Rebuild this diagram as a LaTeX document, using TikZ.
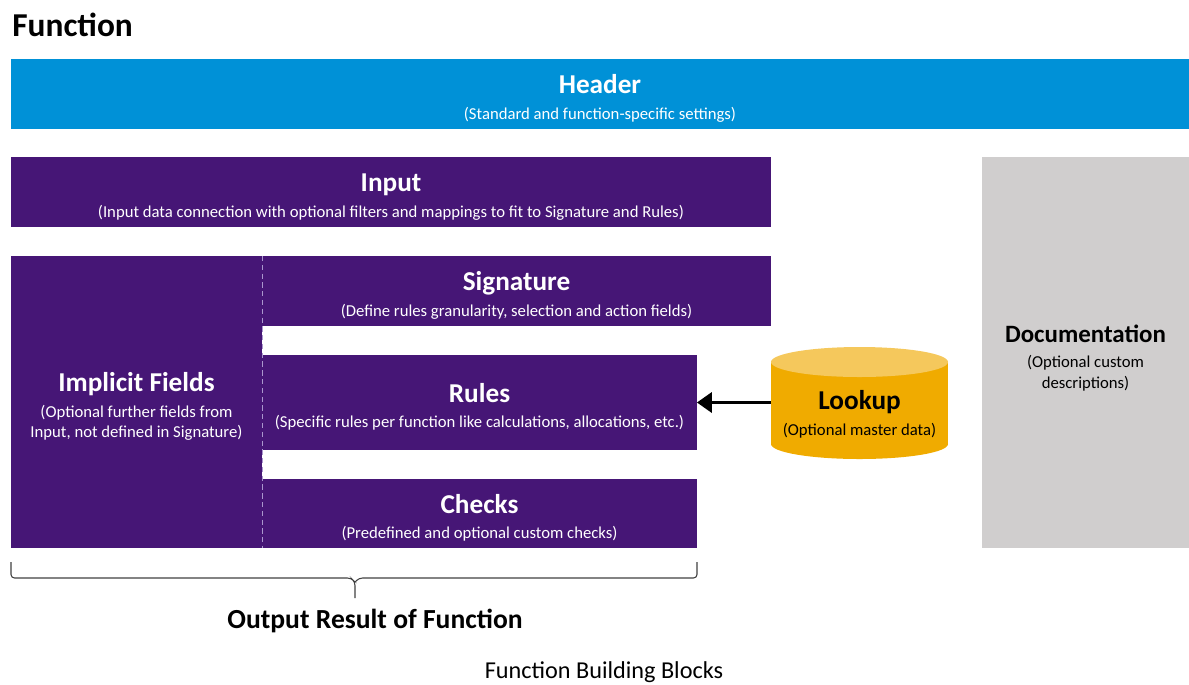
\documentclass[tikz,border=0pt]{standalone}
\usepackage{fontspec}
\setmainfont{Carlito}
\usetikzlibrary{arrows.meta}

\definecolor{hdrblue}{RGB}{0,145,215}
\definecolor{fnpurple}{RGB}{70,22,118}
\definecolor{docgrey}{RGB}{208,206,206}
\definecolor{lkbody}{RGB}{240,171,0}
\definecolor{lktop}{RGB}{245,200,92}
\definecolor{dashlav}{RGB}{170,150,205}

\tikzset{
  box/.style={inner sep=0pt, outer sep=0pt, align=center, text=white, font=\fontsize{9.5}{11.5}\selectfont},
  purplebox/.style={box, fill=fnpurple},
}
\newcommand{\blk}[3][15.5]{{\bfseries\fontsize{#1}{19}\selectfont\rule{0pt}{16pt}#2}\\[3pt]#3}

\begin{document}
\begin{tikzpicture}[x=0.02cm,y=-0.02cm]
\useasboundingbox (0,0) rectangle (1189,684);

\node[anchor=west, inner sep=0pt, font=\bfseries\fontsize{19}{22}\selectfont] (title) at (12,25) {Function};

\node[box, fill=hdrblue, minimum width=23.56cm, minimum height=1.4cm] (header) at (600,94)
  {\blk{Header}{(Standard and function-specific settings)}};

\node[purplebox, minimum width=15.2cm, minimum height=1.4cm] (input) at (391,192)
  {\blk{Input}{(Input data connection with optional filters and mappings to fit to Signature and Rules)}};

\node[box, fill=docgrey, text=black, minimum width=4.14cm, minimum height=7.82cm] (doc) at (1085.5,352.5)
  {\blk[14.2]{Documentation}{(Optional custom\\descriptions)}};

\node[purplebox, minimum width=5.02cm, minimum height=5.84cm] (impl) at (136.5,402)
  {\blk{Implicit Fields}{(Optional further fields from\\Input, not defined in Signature)}};
\node[purplebox, minimum width=10.18cm, minimum height=1.4cm] (sig) at (516.5,291)
  {\blk{Signature}{(Define rules granularity, selection and action fields)}};
\node[purplebox, minimum width=8.7cm, minimum height=1.9cm] (rules) at (479.5,402.5)
  {\blk{Rules}{(Specific rules per function like calculations, allocations, etc.)}};
\node[purplebox, minimum width=8.7cm, minimum height=1.38cm] (checks) at (479.5,513.5)
  {\blk{Checks}{(Predefined and optional custom checks)}};
\draw[dashlav, densely dashed, line width=0.5pt] (impl.north east) -- (impl.south east);

% lookup cylinder
\fill[lkbody] (771,362) rectangle (948,444);
\fill[lkbody] (859.5,444) ellipse [x radius=88.5, y radius=15];
\fill[lktop] (859.5,362) ellipse [x radius=88.5, y radius=15];
\node[box, text=black, minimum width=3.54cm, minimum height=1.96cm] (lookup) at (859.5,410)
  {\blk{Lookup}{(Optional master data)}};
\draw[-{Triangle[length=8.5pt,width=11.5pt]}, line width=1.7pt] (lookup.west |- rules.east) -- (rules.east);

% output brace
\coordinate (bl) at (11,562);
\coordinate (br) at (697,562);
\coordinate (tip) at (355,598);
\draw[black!75, line width=0.6pt, rounded corners=2pt] (bl) -- (11,578) -- (351,578) -- (355,582) -- (tip);
\draw[black!75, line width=0.6pt, rounded corners=2pt] (br) -- (697,578) -- (359,578) -- (355,582);
\node[font=\bfseries\fontsize{15.7}{18}\selectfont] (output) at (375,621) {Output Result of Function};

\node[font=\fontsize{13.8}{16}\selectfont] (caption) at (604,672) {Function Building Blocks};
\end{tikzpicture}
\end{document}
